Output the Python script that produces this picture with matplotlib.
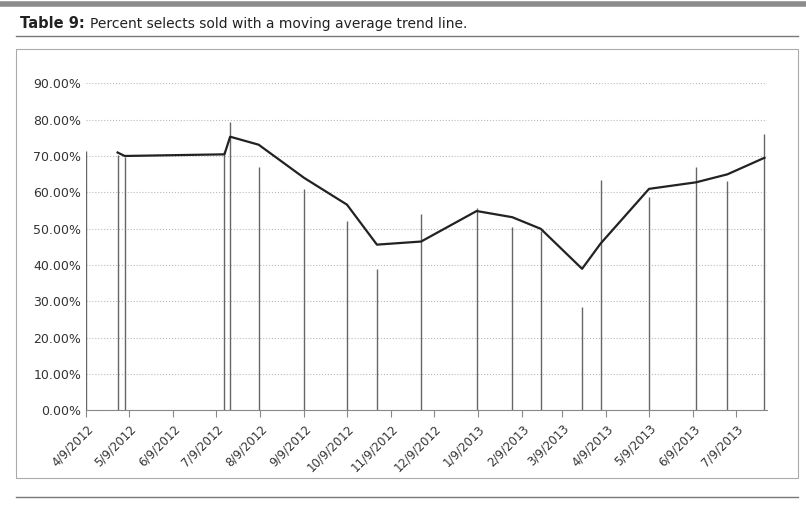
import matplotlib
matplotlib.use("Agg")
import matplotlib.pyplot as plt
import pandas as pd
import numpy as np

dates = ["2012-04-09","2012-05-01","2012-05-06","2012-07-15","2012-07-19","2012-08-08",
         "2012-09-09","2012-10-09","2012-10-30","2012-11-30","2013-01-08","2013-02-02",
         "2013-02-22","2013-03-23","2013-04-05","2013-05-09","2013-06-11","2013-07-03","2013-07-29"]
values = [71.5,70.4,69.6,71.3,79.3,66.9,61.0,52.2,39.0,53.9,55.8,50.5,49.4,28.5,63.3,58.6,66.9,63.0,76.0]
tick_labels = ["4/9/2012","5/9/2012","6/9/2012","7/9/2012","8/9/2012","9/9/2012","10/9/2012",
               "11/9/2012","12/9/2012","1/9/2013","2/9/2013","3/9/2013","4/9/2013","5/9/2013",
               "6/9/2013","7/9/2013"]

d = pd.to_datetime(dates)
s = pd.Series(values, index=d)
ma = s.rolling(2).mean()

fig = plt.figure(figsize=(8.06, 5.11), dpi=100)
fig.add_artist(plt.Line2D([0.0, 1.0], [0.993, 0.993], color="#8c8c8c", lw=4))
fig.add_artist(plt.Line2D([0.02, 0.99], [0.93, 0.93], color="#777777", lw=1))
fig.add_artist(plt.Line2D([0.02, 0.99], [0.028, 0.028], color="#777777", lw=1))
t1 = fig.text(0.025, 0.945, "Table 9:", fontsize=10.5, fontweight="bold", color="#222222")
fig.canvas.draw()
bb = t1.get_window_extent().transformed(fig.transFigure.inverted())
fig.text(bb.x1 + 0.006, 0.945, "Percent selects sold with a moving average trend line.", fontsize=10, color="#222222")
fig.add_artist(plt.Rectangle((0.02, 0.065), 0.97, 0.84, fill=False, ec="#aaaaaa", lw=0.8, transform=fig.transFigure))

ax = fig.add_axes([0.107, 0.197, 0.845, 0.64])
ax.vlines(d, 0, values, color="#666666", lw=1)
ax.plot(ma.index, ma.values, color="#222222", lw=1.6)
ax.set_ylim(0, 90)
ax.set_yticks(np.arange(0, 91, 10))
ax.set_yticklabels([f"{v:.2f}%" for v in np.arange(0, 91, 10)], fontsize=9, color="#333333")
ticks = pd.date_range("2012-04-09", periods=16, freq=pd.DateOffset(months=1))
ax.set_xticks(ticks)
ax.set_xticklabels(tick_labels, rotation=45, ha="right", rotation_mode="anchor", fontsize=8.5, color="#333333")
ax.set_xlim(pd.Timestamp("2012-04-09"), pd.Timestamp("2013-07-31"))
ax.grid(axis="y", ls=":", color="#bbbbbb", lw=0.8)
for sp in ["top", "right", "left"]:
    ax.spines[sp].set_visible(False)
ax.spines["bottom"].set_color("#888888")
ax.tick_params(axis="y", length=0)
ax.tick_params(axis="x", length=5, color="#888888", direction="out")
fig.savefig("out.png", dpi=100)
